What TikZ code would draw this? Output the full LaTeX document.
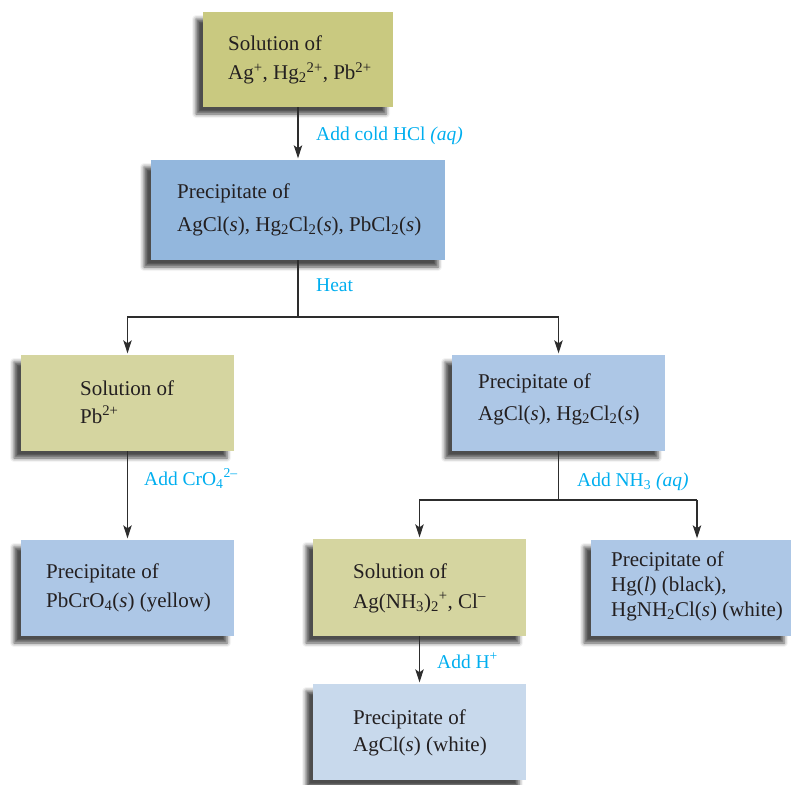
\documentclass[tikz,border=0pt]{standalone}
\usepackage{fontspec}
\setmainfont{Liberation Serif}
\usetikzlibrary{shadows.blur,arrows.meta}
\definecolor{topc}{RGB}{201,201,128}
\definecolor{midc}{RGB}{147,183,221}
\definecolor{olivc}{RGB}{213,213,160}
\definecolor{lbluec}{RGB}{173,199,230}
\definecolor{wbluec}{RGB}{200,217,236}
\definecolor{cyanlab}{RGB}{0,174,239}
\definecolor{linec}{RGB}{45,45,45}
\definecolor{textc}{RGB}{35,31,32}
\begin{document}
\begin{tikzpicture}[x=1pt,y=-1pt,
  box/.style={inner sep=0pt, draw=none,
    blur shadow={shadow xshift=-7pt, shadow yshift=-7pt, shadow blur radius=4pt, shadow opacity=70}},
  txt/.style={anchor=west, align=left, inner sep=0pt, text=textc,
    font=\fontsize{21}{#1}\selectfont},
  txt/.default=30,
  lab/.style={anchor=base west, inner sep=0pt, text=cyanlab, font=\fontsize{19.5}{24}\selectfont},
  conn/.style={draw=linec, line width=1.2pt},
  arr/.style={conn, -{Stealth[length=13pt,width=8.5pt,inset=3pt]}, shorten >=1.5pt}]
\useasboundingbox (0,0) rectangle (791,784);

% boxes
\node[box, fill=topc,   minimum width=190pt, minimum height=95pt]  (n1) at (298,59.5) {};
\node[box, fill=midc,   minimum width=294pt, minimum height=100pt] (n2) at (298,210) {};
\node[box, fill=olivc,  minimum width=213pt, minimum height=96pt]  (n3) at (127.5,403) {};
\node[box, fill=lbluec, minimum width=213pt, minimum height=96pt]  (n4) at (558.5,403) {};
\node[box, fill=lbluec, minimum width=213pt, minimum height=96pt]  (n5) at (127.5,588) {};
\node[box, fill=olivc,  minimum width=213pt, minimum height=97pt]  (n6) at (419.5,587.5) {};
\node[box, fill=lbluec, minimum width=200pt, minimum height=96pt]  (n7) at (691,588) {};
\node[box, fill=wbluec, minimum width=213pt, minimum height=96pt]  (n8) at (419.5,732) {};

% texts
\node[txt=29] (t1) at (228,60) {Solution of\\Ag\textsuperscript{+}, Hg\textsubscript{2}\textsuperscript{2+}, Pb\textsuperscript{2+}};
\node[txt=33] (t2) at (177,210) {Precipitate of\\AgCl(\textit{s}), Hg\textsubscript{2}Cl\textsubscript{2}(\textit{s}), PbCl\textsubscript{2}(\textit{s})};
\node[txt=28] (t3) at (80,402) {Solution of\\Pb\textsuperscript{2+}};
\node[txt=32] (t4) at (478,399) {Precipitate of\\AgCl(\textit{s}), Hg\textsubscript{2}Cl\textsubscript{2}(\textit{s})};
\node[txt=29] (t5) at (46,588) {Precipitate of\\PbCrO\textsubscript{4}(\textit{s}) (yellow)};
\node[txt=30] (t6) at (353,588) {Solution of\\Ag(NH\textsubscript{3})\textsubscript{2}\textsuperscript{+}, Cl\textsuperscript{–}};
\node[txt=25] (t7) at (611,586) {Precipitate of\\Hg(\textit{l}) (black),\\HgNH\textsubscript{2}Cl(\textit{s}) (white)};
\node[txt=27] (t8) at (353,733) {Precipitate of\\AgCl(\textit{s}) (white)};

% connectors
\coordinate (j1) at (298,317);
\coordinate (j2) at (558.5,500);
\coordinate (k7) at (697,500);
\draw[arr] (n1.south) -- (n2.north);
\draw[conn] (n2.south) -- (j1);
\draw[arr] (j1) -| (n3.north);
\draw[arr] (j1) -| (n4.north);
\draw[arr] (n3.south) -- (n5.north);
\draw[conn] (n4.south) -- (j2);
\draw[arr] (j2) -| (n6.north);
\draw[conn] (j2) -- (k7);
\draw[arr] (k7) -- (k7 |- n7.north);
\draw[arr] (n6.south) -- (n8.north);

% labels
\node[lab] (l1) at (316,140) {Add cold HCl \textit{(aq)}};
\node[lab] (l2) at (316,291) {Heat};
\node[lab] (l3) at (144,485) {Add CrO\textsubscript{4}\textsuperscript{2–}};
\node[lab] (l4) at (577,486) {Add NH\textsubscript{3} \textit{(aq)}};
\node[lab] (l5) at (437,668) {Add H\textsuperscript{+}};
\end{tikzpicture}
\end{document}
